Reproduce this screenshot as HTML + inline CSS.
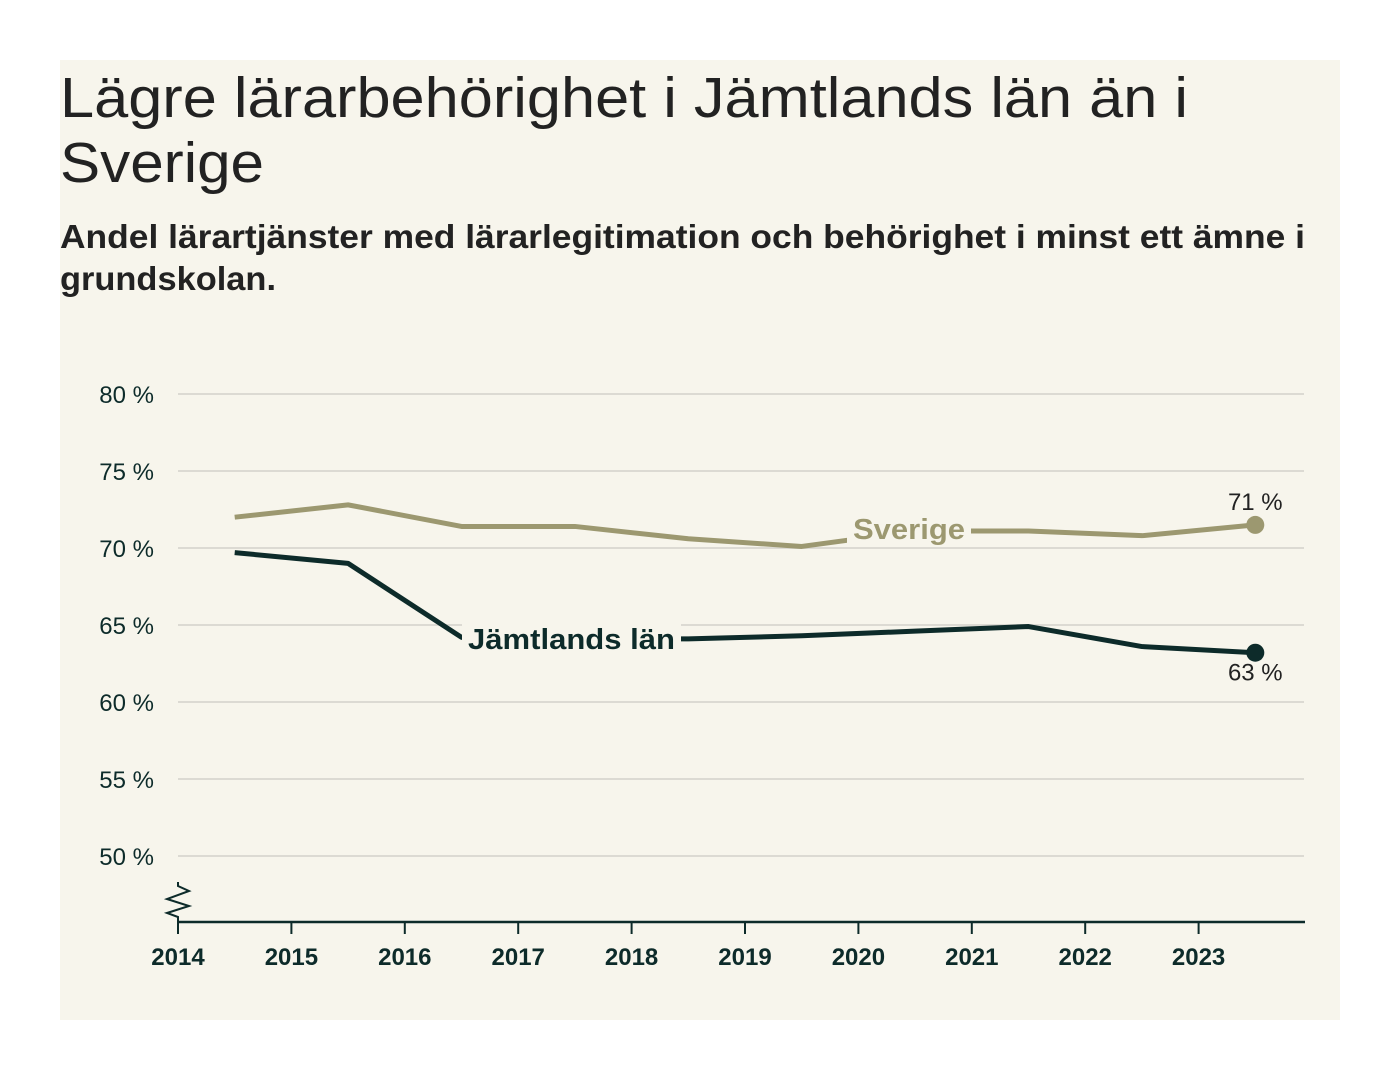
<!DOCTYPE html>
<html><head><meta charset="utf-8"><style>
body{margin:0;background:#fff;width:1400px;height:1080px;overflow:hidden;font-family:"Liberation Sans",sans-serif}
</style></head><body>
<svg width="1400" height="1080" xmlns="http://www.w3.org/2000/svg">
<rect x="60" y="60" width="1280" height="960" fill="#f7f5ec"/>
<g fill="#222" font-family="Liberation Sans, sans-serif">
<text x="60" y="117" font-size="57" textLength="1128" lengthAdjust="spacingAndGlyphs">Lägre lärarbehörighet i Jämtlands län än i</text>
<text x="60" y="182" font-size="57" textLength="204" lengthAdjust="spacingAndGlyphs">Sverige</text>
<text x="60" y="248" font-size="33" font-weight="bold" textLength="1245" lengthAdjust="spacingAndGlyphs">Andel lärartjänster med lärarlegitimation och behörighet i minst ett ämne i</text>
<text x="60" y="290" font-size="33" font-weight="bold" textLength="216" lengthAdjust="spacingAndGlyphs">grundskolan.</text>
</g>
<g id="plot"></g>
</svg>
<script>
const yTicks=[50,55,60,65,70,75,80];
const xTicks=[2014,2015,2016,2017,2018,2019,2020,2021,2022,2023];
const years=[2014.5,2015.5,2016.5,2017.5,2018.5,2019.5,2020.5,2021.5,2022.5,2023.5];
const sverige=[72.0,72.8,71.4,71.4,70.6,70.1,71.1,71.1,70.8,71.5];
const jamtland=[69.7,69.0,64.2,64.1,64.1,64.3,64.6,64.9,63.6,63.2];
const endLabels=["71 %","63 %"];
const NS="http://www.w3.org/2000/svg";
const g=document.getElementById('plot');
const X=v=>178+(v-2014)*113.4;
const Y=v=>548-(v-70)*15.4;
function mk(t,a,p){const e=document.createElementNS(NS,t);for(const k in a)e.setAttribute(k,a[k]);(p||g).appendChild(e);return e;}
yTicks.forEach(v=>{
 const l=mk('line',{x1:178,x2:1304,y1:Y(v),y2:Y(v),stroke:'#dcdad3','stroke-width':2});
 
 
 const t=mk('text',{x:154,y:Y(v)+9,'text-anchor':'end','font-size':24,fill:'#0d2b2a','font-family':'Liberation Sans, sans-serif'});
 t.textContent=v+' %';
 
 
});
const ax=mk('line',{x1:178,x2:1305,y1:922,y2:922,stroke:'#0d2b2a','stroke-width':2.5});


const br=mk('path',{d:'M178,882 L178,886 L189,891 L167,899 L189,906 L167,913 L178,917 L178,922',fill:'none',stroke:'#0d2b2a','stroke-width':2});


xTicks.forEach(v=>{
 const l=mk('line',{x1:X(v),x2:X(v),y1:922,y2:934,stroke:'#0d2b2a','stroke-width':2});
 
 
 const t=mk('text',{x:X(v),y:965,'text-anchor':'middle','font-size':24,'font-weight':'bold',fill:'#0d2b2a','font-family':'Liberation Sans, sans-serif'});
 t.textContent=v;
 
 
});
function series(vals,color,name){
 const d=vals.map((v,i)=>(i?'L':'M')+X(years[i])+','+Y(v)).join(' ');
 const p=mk('path',{d:d,fill:'none',stroke:color,'stroke-width':5,'stroke-linejoin':'round'});
 
 
 const n=vals.length-1;
 const c=mk('circle',{cx:X(years[n]),cy:Y(vals[n]),r:9,fill:color});
 
 
}
series(sverige,'#9c9870','sverige');
series(jamtland,'#0d2b2a','jamtland');
function label(txt,x,y,color,w,name){
 const r=mk('rect',{x:x-6,y:y-26,width:w+12,height:34,fill:'#f7f5ec'});
 
 
 const t=mk('text',{x:x,y:y,'font-size':29,'font-weight':'bold',fill:color,'font-family':'Liberation Sans, sans-serif',textLength:w,lengthAdjust:'spacingAndGlyphs'});
 t.textContent=txt;
 
 
}
label('Sverige',853,539,'#9c9870',112,'sverige');
label('Jämtlands län',468,649,'#0d2b2a',207,'jamtland');
const n=years.length-1;
const e1=mk('text',{x:X(years[n]),y:Y(sverige[n])-15,'text-anchor':'middle','font-size':24,fill:'#222','font-family':'Liberation Sans, sans-serif'});
e1.textContent=endLabels[0];


const e2=mk('text',{x:X(years[n]),y:Y(jamtland[n])+28,'text-anchor':'middle','font-size':24,fill:'#222','font-family':'Liberation Sans, sans-serif'});
e2.textContent=endLabels[1];


</script>
</body></html>
